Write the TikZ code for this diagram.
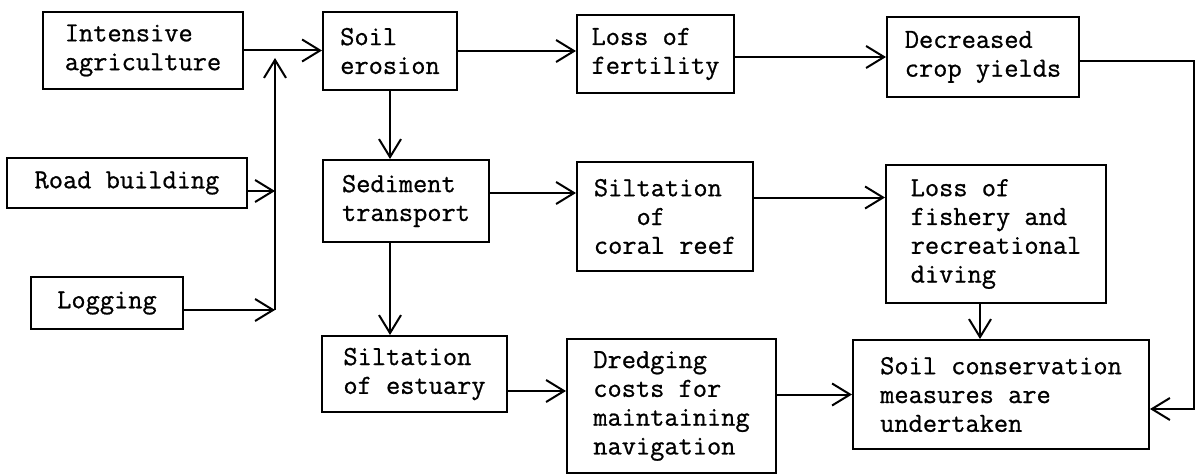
\documentclass[tikz,border=0pt]{standalone}
\usepackage{fontspec}
\newfontfamily\typewriter{Latin Modern Mono}[FakeBold=0.8]
\usetikzlibrary{arrows.meta}
\begin{document}
\begin{tikzpicture}[x=0.5pt,y=-0.5pt,
		box/.style={draw,line width=1pt,inner sep=0pt,align=left,font=\typewriter\fontsize{13.8}{14.4}\selectfont},
		arr/.style={line width=1pt,-{Straight Barb[length=9pt,width=11pt]}}]
			\useasboundingbox (0,0) rectangle (1199,476);
			% causes
			\node[box,minimum width=100pt,minimum height=38.5pt] (intens) at (143,50.5) {Intensive\\agriculture};
			\node[box,minimum width=120pt,minimum height=25pt] (road) at (127,183) {Road building};
			\node[box,minimum width=76pt,minimum height=26pt] (logging) at (107,303) {Logging};
			% middle column
			\node[box,minimum width=67pt,minimum height=39pt] (erosion) at (390,51) {Soil\\erosion};
			\node[box,minimum width=83pt,minimum height=41pt] (sediment) at (406,201) {Sediment\\transport};
			\node[box,minimum width=92.5pt,minimum height=38pt] (estuary) at (414.5,374) {Siltation\\of estuary};
			\node[box,minimum width=78.5pt,minimum height=39pt] (fertility) at (655.5,54) {Loss of\\fertility};
			\node[box,minimum width=88pt,minimum height=54.5pt] (coral) at (665,216.5) {Siltation\\\hphantom{xxx}of\\coral reef};
			\node[box,minimum width=104.5pt,minimum height=67pt] (dredging) at (671.5,406) {Dredging\\costs for\\maintaining\\navigation};
			% effects
			\node[box,minimum width=96pt,minimum height=40pt] (crop) at (983,57) {Decreased\\crop yields};
			\node[box,minimum width=110pt,minimum height=69pt] (fishery) at (996,234) {Loss of\\fishery and\\recreational\\diving};
			\node[box,minimum width=148pt,minimum height=54.5pt] (conserv) at (1001,394.5) {Soil conservation\\measures are\\undertaken};
			% junction of the causes
			\coordinate (jtop) at (275,58);
			\coordinate (jroad) at (275,191);
			\coordinate (jlog) at (275,310);
			\coordinate (rcorner) at (1194,409);
			\draw[arr] (intens.east) -- (intens.east -| erosion.west);
			\draw[arr] (jlog) -- (jtop);
			\draw[arr] (road.east |- jroad) -- (jroad);
			\draw[arr] (logging.east |- jlog) -- (jlog);
			\draw[arr] (erosion.south) -- (erosion.south |- sediment.north);
			\draw[arr] (erosion.south |- sediment.south) -- (erosion.south |- estuary.north);
			\draw[arr] (erosion.east) -- (erosion.east -| fertility.west);
			\draw[arr] ([yshift=4pt]sediment.east) -- ([yshift=4pt]sediment.east -| coral.west);
			\draw[arr] ([yshift=-8.5pt]estuary.east) -- ([yshift=-8.5pt]estuary.east -| dredging.west);
			\draw[arr] (crop.west -| fertility.east) -- (crop.west);
			\draw[arr] ([yshift=9.5pt]coral.east) -- ([yshift=9.5pt]coral.east -| fishery.west);
			\draw[arr] ([xshift=-8pt]fishery.south) -- ([xshift=-8pt]fishery.south |- conserv.north);
			\draw[arr] (dredging.east |- conserv.west) -- (conserv.west);
			\draw[arr] ([yshift=-2pt]crop.east) -| (rcorner) -- (rcorner -| conserv.east);
\end{tikzpicture}
\end{document}
